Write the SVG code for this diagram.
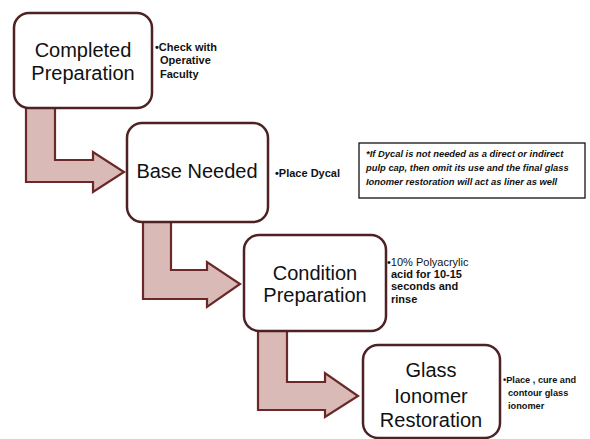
<svg xmlns="http://www.w3.org/2000/svg" width="590" height="439" viewBox="0 0 590 439">
  <defs>
    <style>
      .step { fill: #ffffff; stroke: #4e2222; stroke-width: 2.5; }
      .arrow { fill: #d9bab6; stroke: #6a2828; stroke-width: 2.2; stroke-linejoin: miter; }
      .title { font-family: "Liberation Sans", Arial, sans-serif; font-size: 20px; fill: #111111; text-anchor: middle; }
      .note { font-family: "Liberation Sans", Arial, sans-serif; font-size: 11px; font-weight: bold; fill: #111111; }
      .small { font-family: "Liberation Sans", Arial, sans-serif; font-size: 9.2px; font-weight: bold; fill: #111111; }
      .caveat { font-family: "Liberation Sans", Arial, sans-serif; font-size: 9.4px; font-weight: bold; font-style: italic; fill: #111111; }
    </style>
  </defs>

  <rect width="590" height="439" fill="#ffffff"/>

  <!-- bent block arrows between the steps -->
  <g id="connectors">
    <polygon class="arrow" points="26,108 55,108 55,160 93,160 93,152 124,172 93,192 93,182 26,182"/>
    <polygon class="arrow" points="143,222 171,222 171,270 207,270 207,262 240,284 207,307 207,299 143,299"/>
    <polygon class="arrow" points="258,331 287,331 287,382 325,382 325,373 358,396 325,417 325,410 258,410"/>
  </g>

  <g id="completed-preparation">
    <rect class="step" x="14" y="13" width="138" height="95" rx="15"/>
    <text class="title" x="83" y="57">Completed</text>
    <text class="title" x="83" y="80">Preparation</text>
    <text class="note" x="155" y="51">•Check with</text>
    <text class="note" x="160" y="64">Operative</text>
    <text class="note" x="160" y="78">Faculty</text>
  </g>

  <g id="base-needed">
    <rect class="step" x="127" y="123" width="141" height="99" rx="15"/>
    <text class="title" x="197" y="178">Base Needed</text>
    <text class="note" x="275" y="177">•Place Dycal</text>
  </g>

  <g id="dycal-caveat">
    <rect x="359" y="143" width="226" height="55" fill="#ffffff" stroke="#111111" stroke-width="1.3"/>
    <text class="caveat" x="366" y="157">*If Dycal is not needed as a direct or indirect</text>
    <text class="caveat" x="366" y="171">pulp cap, then omit its use and the final glass</text>
    <text class="caveat" x="366" y="185">Ionomer restoration will act as liner as well</text>
  </g>

  <g id="condition-preparation">
    <rect class="step" x="244" y="235" width="142" height="96" rx="15"/>
    <text class="title" x="315" y="280">Condition</text>
    <text class="title" x="315" y="302">Preparation</text>
    <text class="note" x="387" y="266" style="font-weight:normal">•10% Polyacrylic</text>
    <text class="note" x="391" y="278">acid for 10-15</text>
    <text class="note" x="391" y="290">seconds and</text>
    <text class="note" x="391" y="303">rinse</text>
  </g>

  <g id="glass-ionomer-restoration">
    <rect class="step" x="363" y="345" width="137" height="93" rx="15"/>
    <text class="title" x="431" y="377">Glass</text>
    <text class="title" x="431" y="403">Ionomer</text>
    <text class="title" x="431" y="427">Restoration</text>
    <text class="small" x="503" y="383">•Place , cure and</text>
    <text class="small" x="508" y="396">contour glass</text>
    <text class="small" x="508" y="409">ionomer</text>
  </g>
</svg>
